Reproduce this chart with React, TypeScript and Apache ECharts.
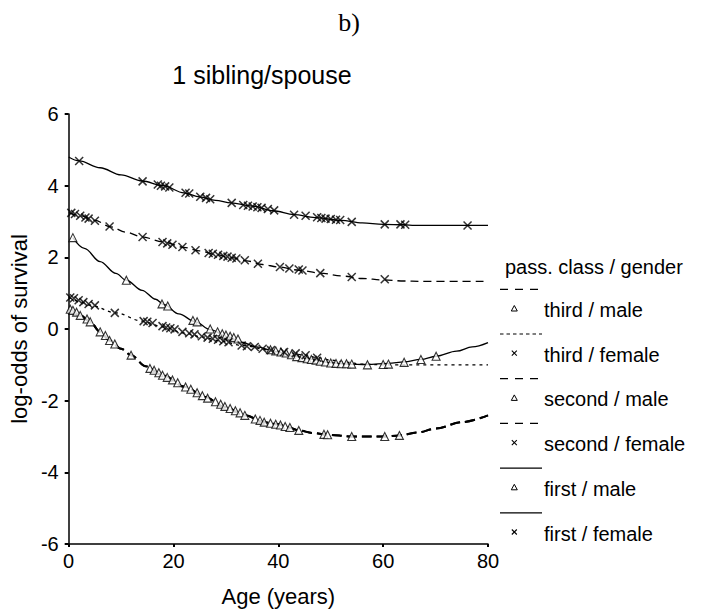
import React, { useEffect, useRef } from "react";
import * as echarts from "echarts";

// ---- data ----
const yTicksMin = -6;
const yTicksMax = 6;
const xMin = 0;
const xMax = 80;

const firstFemaleCurve = [[0,4.8],[2,4.69],[6,4.5],[10,4.3],[14,4.13],[18,4.0],[22,3.8],[25,3.69],[28,3.59],[31,3.52],[35,3.43],[39,3.3],[43,3.19],[47,3.11],[52,3.03],[56,2.96],[60,2.92],[64,2.91],[66,2.89],[80,2.89]];
const firstFemaleMarks = [[2,4.69],[14.1,4.12],[17,4.03],[17.6,4.0],[18.4,3.98],[19.2,3.95],[22.3,3.8],[23,3.78],[25.1,3.69],[26.2,3.66],[27,3.62],[31.1,3.52],[33.3,3.46],[34.2,3.44],[35.1,3.42],[36,3.4],[36.8,3.38],[38,3.35],[39.2,3.31],[43,3.19],[45.2,3.16],[47.4,3.12],[48.2,3.1],[49,3.08],[50,3.07],[51,3.05],[51.8,3.04],[54,2.99],[60.3,2.92],[63.3,2.92],[64.2,2.91],[76.1,2.89]];

const secondFemaleCurve = [[0,3.25],[2,3.17],[5,3.03],[8,2.85],[11,2.7],[14,2.57],[18,2.43],[22,2.28],[25,2.18],[28,2.08],[31,1.99],[34,1.9],[37,1.8],[40,1.73],[44,1.64],[48,1.56],[52,1.48],[56,1.41],[60,1.37],[64,1.34],[67,1.33],[80,1.33]];
const secondFemaleMarks = [[0.5,3.24],[1.2,3.21],[2.2,3.16],[3.2,3.11],[3.8,3.08],[5,3.02],[7.8,2.86],[14.1,2.57],[17.9,2.43],[18.8,2.39],[19.8,2.35],[21.7,2.29],[24.2,2.2],[26.7,2.12],[27.5,2.1],[28.5,2.07],[29.5,2.04],[30.3,2.02],[31.1,1.99],[32,1.97],[33.6,1.92],[36.1,1.82],[40.3,1.73],[42.1,1.69],[43.9,1.66],[44.6,1.63],[48,1.56],[54,1.45],[60.3,1.39]];

const firstMaleCurve = [[0.8,2.55],[3,2.25],[6,1.88],[9,1.55],[11,1.36],[14,1.08],[16.6,0.83],[18.2,0.68],[21,0.42],[24.2,0.2],[27,-0.02],[30.4,-0.22],[33,-0.37],[35.8,-0.5],[39.9,-0.64],[42.4,-0.74],[45.5,-0.83],[49.9,-0.94],[53,-0.98],[57,-0.99],[61,-0.96],[64,-0.92],[67.2,-0.85],[70.1,-0.76],[74,-0.62],[77,-0.5],[80,-0.38]];
const firstMaleMarks = [[0.8,2.55],[11,1.36],[17.8,0.7],[18.9,0.64],[23.7,0.24],[24.5,0.2],[27,0.0],[28.4,-0.08],[29.3,-0.13],[30,-0.17],[30.8,-0.2],[31.5,-0.24],[32.3,-0.28],[38.5,-0.58],[39.5,-0.61],[40.5,-0.64],[41.5,-0.67],[42.5,-0.72],[43.5,-0.77],[44.5,-0.8],[45.5,-0.83],[46.3,-0.85],[47.2,-0.87],[48,-0.9],[49,-0.92],[50,-0.95],[51,-0.96],[52,-0.97],[53,-0.97],[54,-0.98],[57,-1.0],[60,-0.99],[61,-0.98],[64,-0.93],[67.2,-0.85],[70.1,-0.76]];

const thirdFemaleCurve = [[0,0.89],[2,0.77],[4,0.67],[9,0.45],[14,0.22],[18,0.06],[22,-0.11],[25.4,-0.22],[29.2,-0.34],[33,-0.46],[38.6,-0.59],[41,-0.64],[45.2,-0.73],[47.4,-0.8],[50,-0.87],[53,-0.93],[56,-0.98],[60,-1.0],[80,-1.0]];
const thirdFemaleMarks = [[0.3,0.88],[1,0.86],[1.9,0.8],[2.8,0.75],[3.8,0.7],[5,0.66],[8.8,0.45],[14.3,0.22],[15,0.2],[16,0.17],[17.9,0.08],[18.6,0.04],[19.4,0.02],[20.2,-0.01],[21.7,-0.08],[23,-0.12],[24,-0.15],[25.4,-0.2],[26.5,-0.24],[27.5,-0.27],[28.5,-0.3],[29.5,-0.34],[30.5,-0.37],[33,-0.46],[34,-0.48],[35.5,-0.5],[37,-0.55],[38.6,-0.59],[41.1,-0.64],[43.3,-0.68],[45.2,-0.73],[47.4,-0.8]];

// third / male and second / male coincide in the reference
const thirdMaleCurve = [[0,0.54],[2.2,0.38],[4.1,0.2],[6,-0.08],[7.8,-0.32],[10,-0.55],[11.9,-0.73],[14.7,-1.04],[17.9,-1.29],[22.3,-1.62],[26,-1.9],[29.8,-2.18],[33.6,-2.41],[37.3,-2.6],[39.9,-2.66],[42,-2.75],[43.9,-2.83],[46.5,-2.9],[49.3,-2.95],[54,-3.0],[60.3,-3.0],[63.1,-2.97],[66.5,-2.89],[70,-2.78],[75,-2.6],[80,-2.41]];
const secondMaleCurve = thirdMaleCurve;
const maleLowMarks = [[0.3,0.55],[0.8,0.52],[1.5,0.47],[2.2,0.38],[3.5,0.28],[4.1,0.2],[6,-0.08],[7,-0.18],[7.8,-0.32],[8.8,-0.42],[11.9,-0.73],[15.5,-1.1],[16.3,-1.15],[17.2,-1.22],[17.9,-1.29],[18.8,-1.35],[19.8,-1.42],[20.8,-1.5],[22.3,-1.62],[23.3,-1.68],[24.5,-1.78],[25.5,-1.86],[26.5,-1.93],[28,-2.03],[29,-2.1],[29.8,-2.16],[30.8,-2.22],[31.8,-2.28],[32.7,-2.34],[33.6,-2.41],[35.6,-2.51],[36.5,-2.55],[37.3,-2.6],[38.5,-2.63],[39.5,-2.66],[40.4,-2.68],[41.3,-2.72],[42.2,-2.75],[43.9,-2.83],[48.7,-2.94],[49.4,-2.95],[54,-3.0],[60.3,-3.0],[63.1,-2.97]];

const legendLabels = ["third / male", "third / female", "second / male", "second / female", "first / male", "first / female"];
const legendMarkers = ["tri", "cross", "tri", "cross", "tri", "cross"];
const legendDashes: (number[] | null)[] = [[8, 7], [3.5, 3], [8, 7], [8, 7], null, null];

const FONT = "'Liberation Sans', Arial, Helvetica, sans-serif";
const CROSS = "path://M0 0L10 10M10 0L0 10";

function lineSeries(name: string, data: number[][], dash: number[] | "solid", width = 1.3) {
  return {
    name,
    type: "line",
    data,
    smooth: 0.35,
    smoothMonotone: "x",
    showSymbol: false,
    symbol: "none",
    lineStyle: { color: "#000", width, type: dash },
    z: 2,
  };
}

function markSeries(name: string, data: number[][], kind: "tri" | "cross") {
  return {
    name,
    type: "scatter",
    data,
    symbol: kind === "tri" ? "triangle" : CROSS,
    symbolSize: kind === "tri" ? 8 : 8,
    itemStyle:
      kind === "tri"
        ? { color: "#fff", borderColor: "#000", borderWidth: 1.1 }
        : { color: "rgba(0,0,0,0)", borderColor: "#000", borderWidth: 1.5 },
    z: 3,
  };
}

function legendGraphics() {
  const items: any[] = [];
  items.push({
    type: "text",
    x: 505,
    y: 267,
    style: { text: "pass. class / gender", fontSize: 20, fontFamily: FONT, fill: "#000", verticalAlign: "middle", align: "left" },
  });
  const step = 44.7;
  legendLabels.forEach((label, i) => {
    const ly = 289.3 + step * i;
    const my = 308.5 + step * i;
    items.push({
      type: "line",
      shape: { x1: 500, y1: ly, x2: 542, y2: ly },
      style: { stroke: "#000", lineWidth: 1.2, lineDash: legendDashes[i] || undefined },
    });
    if (legendMarkers[i] === "tri") {
      items.push({
        type: "polygon",
        shape: { points: [[514.3, my - 3], [517.3, my + 2.5], [511.3, my + 2.5]] },
        style: { fill: "#fff", stroke: "#000", lineWidth: 1 },
      });
    } else {
      items.push({ type: "line", shape: { x1: 511.8, y1: my - 2.5, x2: 516.8, y2: my + 2.5 }, style: { stroke: "#000", lineWidth: 1.1 } });
      items.push({ type: "line", shape: { x1: 516.8, y1: my - 2.5, x2: 511.8, y2: my + 2.5 }, style: { stroke: "#000", lineWidth: 1.1 } });
    }
    items.push({
      type: "text",
      x: 544,
      y: 310 + step * i,
      style: { text: label, fontSize: 20, fontFamily: FONT, fill: "#000", verticalAlign: "middle", align: "left" },
    });
  });
  return items;
}

export default function App() {
  const ref = useRef<HTMLDivElement>(null);
  useEffect(() => {
    if (!ref.current) return;
    const chart = echarts.init(ref.current, null, { renderer: "svg" });
    const option: any = {
      animation: false,
      backgroundColor: "#fff",
      grid: { left: 62, right: 216, top: 114, bottom: 67, containLabel: false },
      xAxis: {
        type: "value",
        min: xMin,
        max: xMax,
        interval: 20,
        name: "Age (years)",
        nameLocation: "middle",
        nameGap: 41,
        nameTextStyle: { fontSize: 22, fontFamily: FONT, color: "#000" },
        axisLine: { show: true, onZero: false, lineStyle: { color: "#000", width: 1.5 } },
        axisTick: { show: true, length: 3, lineStyle: { color: "#000", width: 2 } },
        axisLabel: { fontSize: 20, fontFamily: FONT, color: "#000", margin: 7 },
        splitLine: { show: false },
      },
      yAxis: {
        type: "value",
        min: yTicksMin,
        max: yTicksMax,
        interval: 2,
        name: "log-odds of survival",
        nameLocation: "middle",
        nameGap: 31,
        nameRotate: 90,
        nameTextStyle: { fontSize: 22, fontFamily: FONT, color: "#000" },
        axisLine: { show: true, onZero: false, lineStyle: { color: "#000", width: 1.5 } },
        axisTick: { show: true, length: 4, lineStyle: { color: "#000", width: 2 } },
        axisLabel: { fontSize: 20, fontFamily: FONT, color: "#000", margin: 10 },
        splitLine: { show: false },
      },
      graphic: [
        {
          type: "text",
          x: 349,
          y: 22,
          style: { text: "b)", fontSize: 26, fontFamily: "'Liberation Serif', 'Times New Roman', serif", fill: "#000", align: "center", verticalAlign: "middle" },
        },
        {
          type: "text",
          x: 262,
          y: 75,
          style: { text: "1 sibling/spouse", fontSize: 25, fontFamily: FONT, fill: "#000", align: "center", verticalAlign: "middle" },
        },
        ...legendGraphics(),
      ],
      series: [
        lineSeries("first / female", firstFemaleCurve, "solid"),
        lineSeries("second / female", secondFemaleCurve, [8, 5]),
        lineSeries("first / male", firstMaleCurve, "solid"),
        lineSeries("third / female", thirdFemaleCurve, [3, 4]),
        lineSeries("third / male", thirdMaleCurve, [10, 5], 2),
        lineSeries("second / male", secondMaleCurve, [10, 5], 2),
        markSeries("first / female marks", firstFemaleMarks, "cross"),
        markSeries("second / female marks", secondFemaleMarks, "cross"),
        markSeries("first / male marks", firstMaleMarks, "tri"),
        markSeries("third / female marks", thirdFemaleMarks, "cross"),
        markSeries("male marks", maleLowMarks, "tri"),
      ],
    };
    chart.setOption(option);
    return () => chart.dispose();
  }, []);
  return <div ref={ref} style={{ position: "fixed", left: 0, top: 0, width: 704, height: 612 }} />;
}
